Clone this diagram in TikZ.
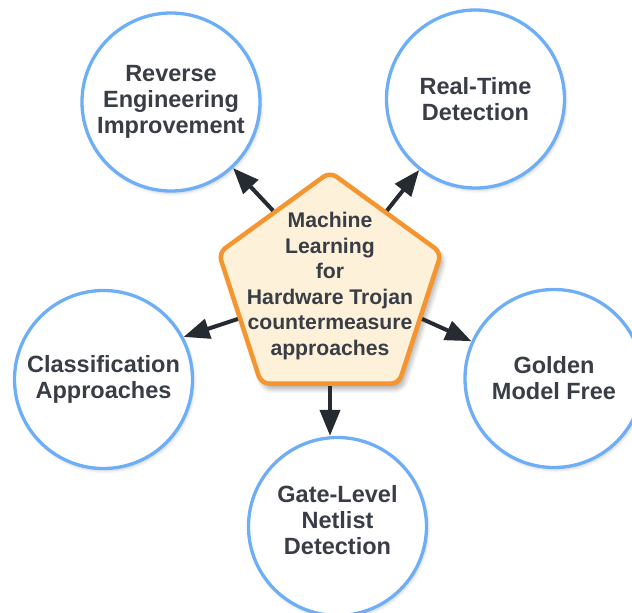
\documentclass[tikz,border=0pt]{standalone}
\usepackage{fontspec}
\setmainfont{Liberation Sans}
\usetikzlibrary{shapes.geometric,arrows.meta,shadows.blur}

\definecolor{ringblue}{HTML}{6EAEF6}
\definecolor{hubfill}{HTML}{FEF1DA}
\definecolor{hubedge}{HTML}{F5952F}
\definecolor{inkdark}{HTML}{393D46}
\definecolor{arrowdark}{HTML}{262A31}

\begin{document}
\begin{tikzpicture}[x=1pt,y=-1pt,
  topic/.style={circle, draw=ringblue, line width=3.3pt, fill=white,
    minimum size=178pt, inner sep=0pt, align=center, text=inkdark,
    font=\fontsize{23.5}{26}\selectfont\bfseries,
    blur shadow={shadow xshift=1.5pt, shadow yshift=-2.5pt,
      shadow opacity=18, shadow blur radius=3pt, shadow blur steps=6}},
  topictext/.style={align=center, text=inkdark, inner sep=0pt,
    font=\fontsize{23.5}{26}\selectfont\bfseries},
  hub/.style={regular polygon, regular polygon sides=5, minimum size=234pt,
    draw=hubedge, fill=hubfill, line width=4.5pt, rounded corners=8pt,
    inner sep=0pt,
    blur shadow={shadow xshift=3pt, shadow yshift=-5pt,
      shadow opacity=35, shadow blur radius=5pt, shadow blur steps=10}},
  hubtext/.style={align=center, text=inkdark, inner sep=0pt,
    font=\fontsize{21.2}{25.5}\selectfont\bfseries},
  link/.style={-{Triangle[length=26pt,width=20pt]}, line width=4pt,
    draw=arrowdark}
]
\useasboundingbox (0,0) rectangle (632,613);

% surrounding topics
\node[topic] (rev)  at (171,102)     {Reverse\\Engineering\\Improvement};
\node[topic] (rt)   at (475.5,99)    {Real-Time\\Detection};
\node[topic] (cls)  at (103.5,379.5) {Classification\\Approaches};
\node[topic] (gold) at (554,378.5)   {Golden\\Model Free};
\node[topic] (gate) at (337.5,526.5) {};
\node[topictext] (gatetext) at (337.5,520.5) {Gate-Level\\Netlist\\Detection};

% point on the left circle where its arrow lands
\coordinate (clsend) at (cls.28.6);

% central pentagon
\node[hub] (ml) at (330,289) {};
\node[hubtext] (mltext) at (330,286)
  {Machine\\Learning\\for\\Hardware Trojan\\countermeasure\\approaches};

% connectors from the central pentagon
\draw[link] (ml.side 1) -- (rev);
\draw[link] (ml.side 5) -- (rt);
\draw[link] (ml.side 2) -- (clsend);
\draw[link] (ml.side 4) -- (gold);
\draw[link] (ml.side 3) -- (ml.side 3 |- gate.north);
\end{tikzpicture}
\end{document}
